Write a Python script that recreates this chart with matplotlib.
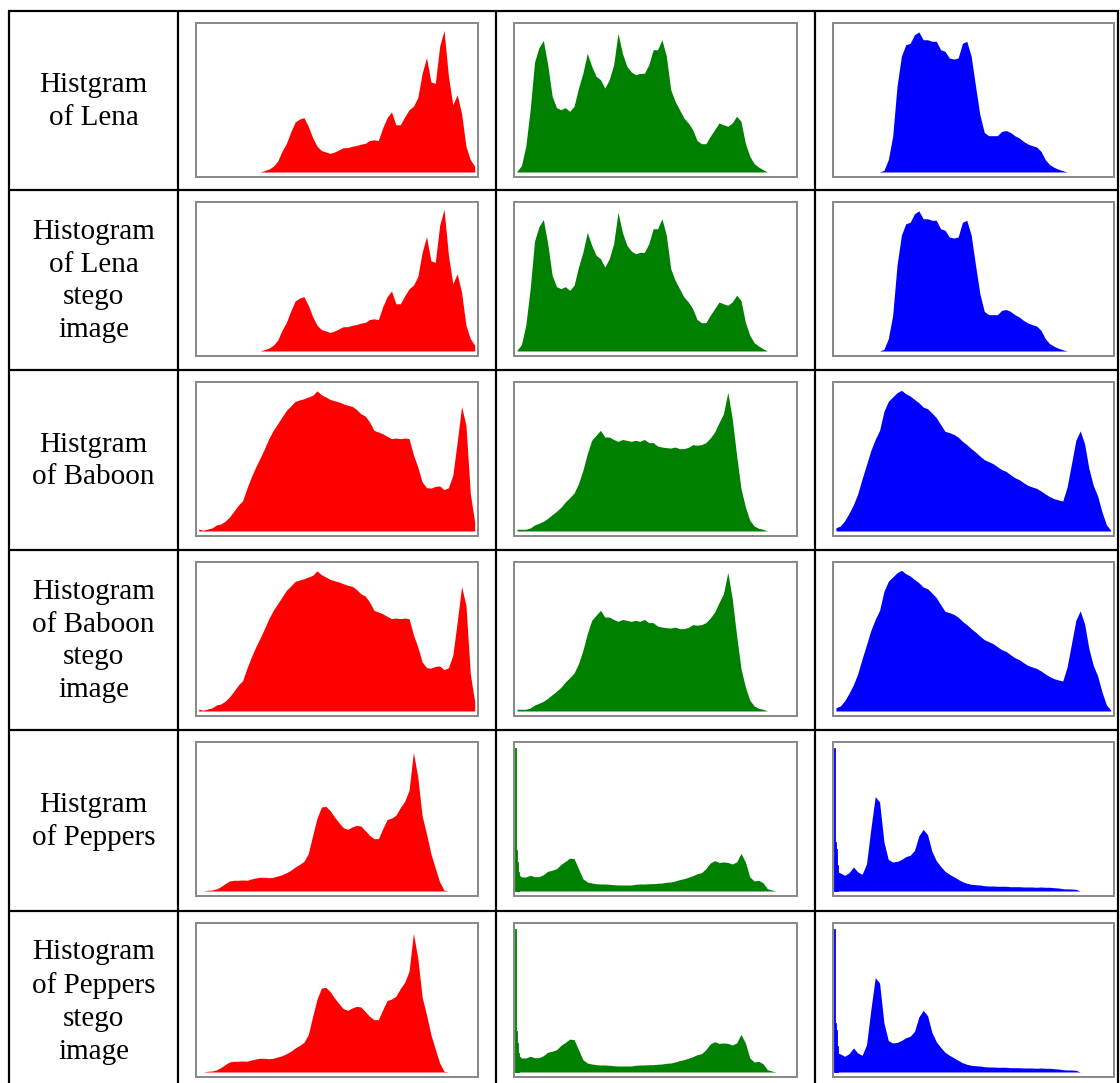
import numpy as np
import matplotlib
matplotlib.use("Agg")
import matplotlib.pyplot as plt
from matplotlib.lines import Line2D

# ---------------- data (relative counts, 64 groups of 4 grey levels) ----------------
lena_r = [0, 0, 0, 0, 0, 0, 0, 0, 0, 0,
          0, 0, 0, 0, 0, 1, 2, 4, 7.5, 14.5,
          20, 28, 35, 37, 38, 32, 24, 18, 15, 14,
          13, 14, 15.5, 17, 17, 18, 18.5, 19.5, 20, 22,
          22.5, 22, 31, 38, 42, 33, 33, 38.5, 43.5, 46,
          52, 69, 80, 63, 62, 88, 99, 67, 47, 54,
          41, 18, 8.6, 4]
lena_g = [0.5, 4.4, 18, 43.6, 77, 87, 92, 75, 53, 45,
          43.6, 45, 42.4, 46, 58.7, 69, 83, 74, 67, 64.6,
          58.7, 64.6, 75, 97, 83, 74, 70, 68, 69, 69,
          75, 85.5, 85.5, 92.5, 81, 57.6, 49.4, 43.6, 37.8, 34.3,
          29.6, 22, 19.8, 19.8, 25, 29.6, 34.3, 33, 32, 34.3,
          39, 35.4, 20, 11, 5.8, 3.5, 1.6, 0, 0, 0,
          0, 0, 0, 0]
lena_b = [0, 0, 0, 0, 0, 0, 0, 0, 0, 0,
          0, 1.2, 8.6, 25, 60, 81, 89, 90, 96, 98,
          92.5, 92.5, 91.4, 91.4, 85.5, 84.4, 79.7, 79, 79.7, 90,
          91.4, 81, 60, 40, 27.7, 25.4, 25.4, 25.4, 28.4, 29,
          27.7, 25.4, 23.8, 21.4, 19.6, 18.4, 17.5, 14.5, 8.6, 5.1,
          3.3, 1.9, 0.9, 0, 0, 0, 0, 0, 0, 0,
          0, 0, 0, 0]
baboon_r = [1.4, 0.5, 1.4, 2.1, 4.2, 4.9, 6.8, 9.8, 13.8, 18,
            21.2, 30, 37.8, 44.8, 51, 57.6, 64.6, 70.4, 75, 79.7,
            84.4, 87.4, 90.7, 91.6, 92.5, 93.7, 94.9, 98, 95.3, 93.7,
            92, 91.1, 90.2, 89, 87.9, 87.2, 85, 82, 80.4, 76.2,
            70.4, 69.2, 68, 66.2, 64.6, 65, 64.6, 65, 64.6, 53.4,
            44.8, 34.3, 30.3, 30, 31.2, 31.5, 28.9, 30.3, 39, 62.2,
            87, 74, 26, 6.3]
baboon_g = [1.2, 1.2, 1.2, 2.1, 4.2, 5.4, 6.8, 8.9, 11.4, 13.8,
            16.6, 20.3, 23.3, 26.6, 33.1, 42.4, 54, 63.4, 67, 70.4,
            65.7, 65.7, 64, 62.7, 64, 63.4, 62.7, 63.4, 62.7, 64,
            61.8, 61.8, 59.4, 58.7, 58.3, 58, 58.7, 57.6, 57.6, 58.5,
            60.4, 60, 60.4, 61.8, 65, 69.2, 75.8, 82, 97, 78.6,
            53, 29.6, 16.8, 7.5, 3.5, 1.9, 1.2, 0, 0, 0,
            0, 0, 0, 0]
baboon_b = [2.3, 3.5, 7.2, 12.4, 18.4, 26.1, 36.6, 46.4, 56.4, 64.1,
            70.4, 83.7, 90.7, 93.7, 96.7, 98.4, 96, 94.4, 92, 89.7,
            86.7, 85.5, 82.5, 79.3, 74.4, 69.7, 68.8, 67.6, 65.7, 62.7,
            60.4, 57.6, 55.2, 52.4, 49.9, 48.5, 47.1, 45, 42.9, 41.7,
            39.4, 37.3, 35.9, 33.8, 31.9, 30.8, 29.8, 28, 25.9, 24,
            22.6, 21.7, 21, 30.8, 47, 63.4, 70, 61, 43.6, 31.9,
            24.5, 13.3, 4.4, 0.5]
peppers_r = [0, 0, 0.5, 0.7, 1.4, 3, 5.1, 7, 7.5, 7.5,
             7.7, 7.5, 8.4, 9.1, 9.6, 9.6, 9.3, 9.6, 10.5, 11.4,
             12.8, 14.5, 16.8, 18.6, 20.7, 26.1, 38.9, 51, 58.7, 59.2,
             56.2, 51.7, 47.8, 44.3, 43.1, 44.8, 45.9, 45.5, 42.2, 38.9,
             36.6, 36.6, 43.6, 50, 51, 53, 58.3, 62.7, 70.4, 97,
             79.7, 52.4, 40, 26.1, 16, 6.3, 0.5, 0, 0, 0,
             0, 0, 0, 0]
peppers_g = [13, 9.8, 9.8, 11, 10, 10, 11.4, 13.8, 14.5, 15.6,
             18.6, 20.7, 23, 22.6, 15.6, 8.6, 6.3, 5.6, 5.1, 4.9,
             4.9, 4.7, 4.4, 4.2, 4.2, 4.2, 4.2, 4.7, 4.9, 4.9,
             5.1, 5.1, 5.4, 5.6, 6.1, 6.3, 7, 7.9, 8.6, 9.6,
             10.7, 12.1, 12.8, 15.6, 19.6, 21.2, 20, 20.3, 20, 18.9,
             20.3, 26.3, 20.3, 9.8, 7, 7.5, 5.8, 1.6, 0.7, 0,
             0, 0, 0, 0]
peppers_b = [14, 12.6, 11, 12.8, 16.8, 13.3, 11.7, 19, 43.6, 66,
             62.2, 34.3, 22, 20.3, 20.7, 22, 24, 25, 28.4, 38.5,
             43.1, 39.4, 27.7, 21.2, 17.2, 13.8, 11.7, 10, 8.2, 6.5,
             5.4, 4.7, 4.4, 4.2, 3.7, 3.5, 3.5, 3.3, 3.3, 3.3,
             3, 3, 3, 2.8, 2.8, 2.8, 2.6, 2.8, 2.6, 2.6,
             2.3, 2.1, 1.6, 1.4, 1.4, 1.2, 0, 0, 0, 0,
             0, 0, 0, 0]
# individual first grey levels (0..3) where a single-bin spike is visible
peppers_g_first = [100, 28.4, 20, 13.3]
peppers_b_first = [100, 34, 29.6, 18]

row_labels = ["Histgram\nof Lena",
              "Histogram\nof Lena\nstego\nimage",
              "Histgram\nof Baboon",
              "Histogram\nof Baboon\nstego\nimage",
              "Histgram\nof Peppers",
              "Histogram\nof Peppers\nstego\nimage"]

# rows: (R, G, B, first-bin spikes for R, G, B); stego rows share the cover histograms
rows = [
    (lena_r, lena_g, lena_b, None, None, None),
    (lena_r, lena_g, lena_b, None, None, None),
    (baboon_r, baboon_g, baboon_b, None, None, None),
    (baboon_r, baboon_g, baboon_b, None, None, None),
    (peppers_r, peppers_g, peppers_b, None, peppers_g_first, peppers_b_first),
    (peppers_r, peppers_g, peppers_b, None, peppers_g_first, peppers_b_first),
]
colors = ["#ff0000", "#008000", "#0000ff"]

# ---------------- layout ----------------
W, H = 1120, 1083
fig = plt.figure(figsize=(W / 100, H / 100), dpi=100)
fig.patch.set_facecolor("white")

row_lines = [11, 190, 370, 550, 730, 911, 1091]
col_lines = [9, 178, 495.5, 815, 1118]
frame_x = [(195.5, 478.0), (513.7, 797.0), (832.7, 1114.0)]


def fx(x):
    return x / W


def fy(y):
    return 1 - y / H


lw_table = 2.2 * 72 / 100
for y in row_lines:
    fig.add_artist(Line2D([fx(col_lines[0] - 1), fx(col_lines[-1] + 1)], [fy(y), fy(y)],
                          color="black", linewidth=lw_table, solid_capstyle="butt"))
for x in col_lines:
    fig.add_artist(Line2D([fx(x), fx(x)], [fy(row_lines[0] - 1), fy(row_lines[-1])],
                          color="black", linewidth=lw_table, solid_capstyle="butt"))

centers = np.arange(64) * 4 + 2.0
for r, (label, data) in enumerate(zip(row_labels, rows)):
    top, bot = row_lines[r], row_lines[r + 1]
    fig.text(fx((col_lines[0] + col_lines[1]) / 2), fy((top + bot) / 2 + 1), label,
             ha="center", va="center", ma="center", fontsize=21,
             family=["Liberation Serif", "DejaVu Serif"], linespacing=1.33)
    fy0, fy1 = top + 12, top + 166
    for c in range(3):
        x0, x1 = frame_x[c]
        ax = fig.add_axes([fx(x0), fy(fy1), (x1 - x0) / W, (fy1 - fy0) / H])
        vals = np.asarray(data[c], dtype=float)
        ax.fill_between(centers, 0, vals, color=colors[c], linewidth=0)
        first = data[3 + c]
        if first is not None:
            ax.bar(np.arange(4), first, width=1, align="edge", color=colors[c],
                   edgecolor=colors[c], linewidth=0.6)
        ax.set_xlim(-1.0, 257.0)
        ax.set_ylim(-3.5, 104.2)
        ax.set_xticks([])
        ax.set_yticks([])
        for s in ax.spines.values():
            s.set_color("#8a8a8a")
            s.set_linewidth(2 * 72 / 100)

fig.savefig("out.png", dpi=100, facecolor="white")
